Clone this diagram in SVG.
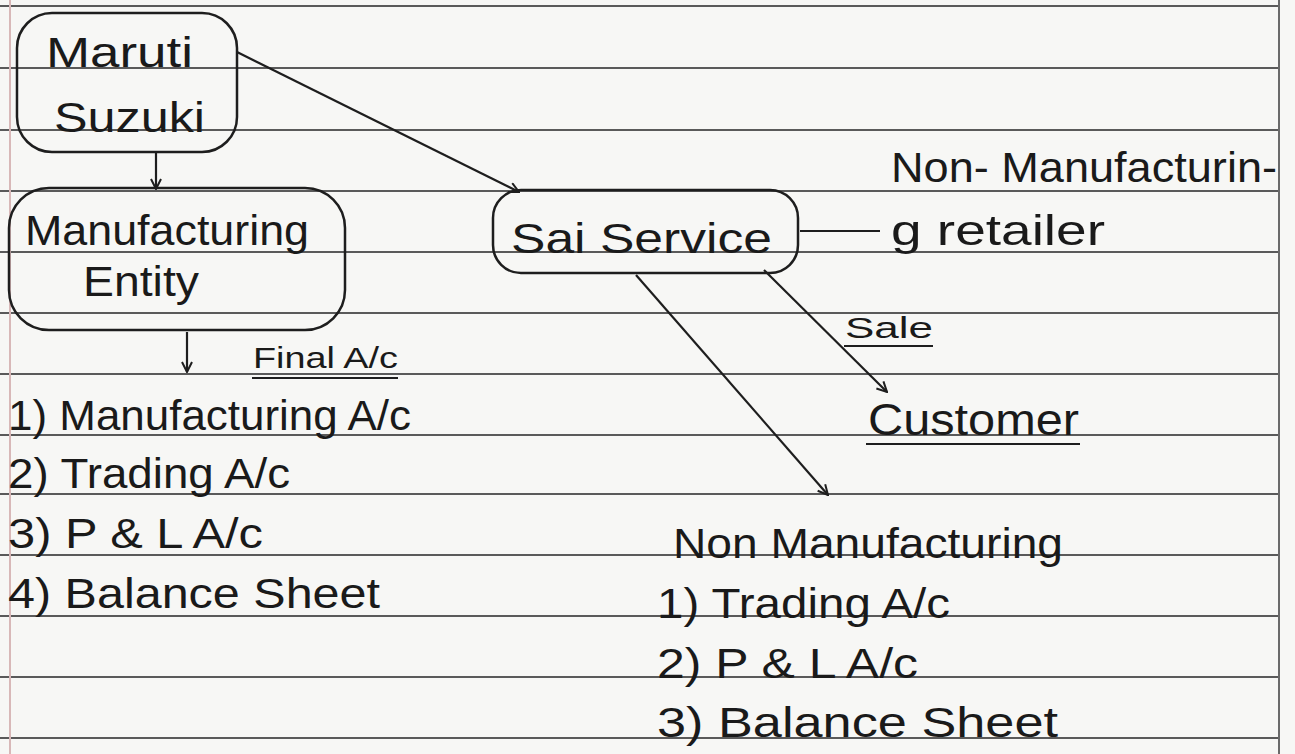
<svg xmlns="http://www.w3.org/2000/svg" width="1295" height="754" viewBox="0 0 1295 754">
  <style>
    .rule { stroke: #5a5a5a; stroke-width: 2; }
    .node { fill: none; stroke: #1e1e1e; stroke-width: 2.5; }
    .t { font-family: "Liberation Sans", "DejaVu Sans", sans-serif; fill: #1a1a1a; }
    .big { font-size: 42px; }
    .mid { font-size: 42px; }
    .small { font-size: 30px; }
    .conn { stroke: #1e1e1e; stroke-width: 2.2; fill: none; }
    .ul { stroke: #1e1e1e; stroke-width: 2.2; }
  </style>
  <defs>
    <marker id="arr" viewBox="0 0 12 12" refX="11" refY="6" markerWidth="12" markerHeight="12" markerUnits="userSpaceOnUse" orient="auto">
      <polyline points="1,1 11,6 1,11" fill="none" stroke="#1e1e1e" stroke-width="2"/>
    </marker>
  </defs>
  <rect width="1295" height="754" fill="#f7f7f5"/>
  <g id="paper">
    <line class="rule" x1="0" y1="6" x2="1280" y2="6"/>
    <line class="rule" x1="0" y1="68" x2="1280" y2="68"/>
    <line class="rule" x1="0" y1="130" x2="1280" y2="130"/>
    <line class="rule" x1="0" y1="191" x2="1280" y2="191"/>
    <line class="rule" x1="0" y1="252" x2="1280" y2="252"/>
    <line class="rule" x1="0" y1="313" x2="1280" y2="313"/>
    <line class="rule" x1="0" y1="374" x2="1280" y2="374"/>
    <line class="rule" x1="0" y1="435" x2="1280" y2="435"/>
    <line class="rule" x1="0" y1="494" x2="1280" y2="494"/>
    <line class="rule" x1="0" y1="555" x2="1280" y2="555"/>
    <line class="rule" x1="0" y1="616" x2="1280" y2="616"/>
    <line class="rule" x1="0" y1="677" x2="1280" y2="677"/>
    <line class="rule" x1="0" y1="738" x2="1280" y2="738"/>
    <line x1="10" y1="0" x2="10" y2="754" stroke="#d8b8b8" stroke-width="2"/>
    <line x1="1279" y1="0" x2="1279" y2="754" stroke="#6a6a6a" stroke-width="2"/>
  </g>

  <g id="maruti-suzuki">
    <rect class="node" x="17" y="13" width="220" height="139" rx="35"/>
    <text class="t big" x="46" y="67" textLength="147" lengthAdjust="spacingAndGlyphs">Maruti</text>
    <text class="t big" x="54" y="132" textLength="151" lengthAdjust="spacingAndGlyphs">Suzuki</text>
  </g>

  <g id="manufacturing-entity">
    <rect class="node" x="9" y="188" width="336" height="142" rx="40"/>
    <text class="t big" x="25" y="245" textLength="284" lengthAdjust="spacingAndGlyphs">Manufacturing</text>
    <text class="t big" x="83" y="296" textLength="116" lengthAdjust="spacingAndGlyphs">Entity</text>
  </g>

  <g id="sai-service">
    <rect class="node" x="493" y="190" width="305" height="83" rx="28"/>
    <text class="t big" x="511" y="253" textLength="261" lengthAdjust="spacingAndGlyphs">Sai Service</text>
  </g>

  <g id="non-manufacturing-retailer">
    <text class="t mid" x="891" y="182" textLength="386" lengthAdjust="spacingAndGlyphs">Non- Manufacturin-</text>
    <text class="t mid" x="891" y="245" textLength="214" lengthAdjust="spacingAndGlyphs">g retailer</text>
  </g>

  <g id="customer">
    <text class="t big" x="868" y="435" textLength="211" lengthAdjust="spacingAndGlyphs" style="font-size:44px">Customer</text>
    <line class="ul" x1="866" y1="444" x2="1080" y2="444" stroke-width="3"/>
  </g>

  <g id="final-accounts">
    <text class="t small" x="253" y="368" textLength="145" lengthAdjust="spacingAndGlyphs">Final A/c</text>
    <line class="ul" x1="252" y1="378" x2="398" y2="378"/>
    <text class="t mid" x="8" y="430" textLength="403" lengthAdjust="spacingAndGlyphs">1) Manufacturing A/c</text>
    <text class="t mid" x="8" y="488" textLength="282" lengthAdjust="spacingAndGlyphs">2) Trading A/c</text>
    <text class="t mid" x="8" y="548" textLength="255" lengthAdjust="spacingAndGlyphs">3) P &amp; L A/c</text>
    <text class="t mid" x="8" y="608" textLength="372" lengthAdjust="spacingAndGlyphs">4) Balance Sheet</text>
  </g>

  <g id="non-manufacturing">
    <text class="t mid" x="673" y="558" textLength="390" lengthAdjust="spacingAndGlyphs">Non Manufacturing</text>
    <text class="t mid" x="657" y="618" textLength="293" lengthAdjust="spacingAndGlyphs">1) Trading A/c</text>
    <text class="t mid" x="657" y="678" textLength="261" lengthAdjust="spacingAndGlyphs">2) P &amp; L A/c</text>
    <text class="t mid" x="657" y="737" textLength="401" lengthAdjust="spacingAndGlyphs">3) Balance Sheet</text>
  </g>

  <g id="connectors">
    <line class="conn" x1="156" y1="152" x2="156" y2="189" marker-end="url(#arr)"/>
    <line class="conn" x1="187" y1="332" x2="187" y2="372" marker-end="url(#arr)"/>
    <line class="conn" x1="237" y1="52" x2="519" y2="192" marker-end="url(#arr)"/>
    <line class="conn" x1="800" y1="231" x2="880" y2="231"/>
    <line class="conn" x1="764" y1="270" x2="887" y2="392" marker-end="url(#arr)"/>
    <line class="conn" x1="636" y1="275" x2="828" y2="495" marker-end="url(#arr)"/>
    <g id="sale-label">
      <text class="t small" x="845" y="338" textLength="88" lengthAdjust="spacingAndGlyphs">Sale</text>
      <line class="ul" x1="844" y1="346" x2="933" y2="346"/>
    </g>
  </g>
</svg>
